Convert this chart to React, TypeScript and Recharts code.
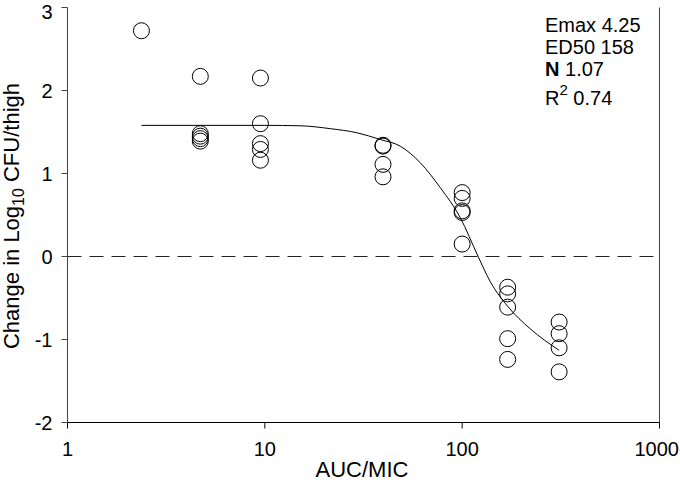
import { ComposedChart, Line, Scatter, XAxis, YAxis, ReferenceLine } from 'recharts';

// observed points, grouped by AUC/MIC dose level
const DOSE_X = [2.37, 4.71, 9.5, 39.7, 100, 170, 310];
const DOSE_Y = [
  [2.72],
  [2.17, 1.48, 1.45, 1.42, 1.39],
  [2.15, 1.6, 1.36, 1.29, 1.16],
  [1.34, 1.33, 1.11, 0.96],
  [0.77, 0.7, 0.55, 0.53, 0.15],
  [-0.37, -0.45, -0.61, -0.99, -1.24],
  [-0.79, -0.93, -1.1, -1.39],
];

// fitted Emax curve
const FIT_X = [2.37, 10, 15.1, 21.5, 29.4, 38.4, 48.5, 61.3, 77.4, 97.7, 120.5, 138.6, 170, 221, 310];
const FIT_Y = [1.58, 1.58, 1.575, 1.54, 1.49, 1.41, 1.33, 1.13, 0.83, 0.47, 0.0, -0.3, -0.6, -0.87, -1.13];

const X_TICKS = [1, 10, 100, 1000];
const Y_TICKS = [-2, -1, 0, 1, 2, 3];

const FONT = '"Liberation Sans", Arial, sans-serif';

const points = DOSE_X.flatMap((x, i) => DOSE_Y[i].map(y => ({ x, y })));
const fit = FIT_X.map((x, i) => ({ x, y: FIT_Y[i] }));

const Ring = (props: any) => {
  const { cx, cy } = props;
  if (cx == null || cy == null) return null;
  return <circle cx={cx} cy={cy} r={8} fill="none" stroke="#000" strokeWidth={1} />;
};

// last label sits on the right edge, keep it inside the frame
const XTick = (props: any) => {
  const { x, y, payload } = props;
  const last = payload.value === X_TICKS[X_TICKS.length - 1];
  return (
    <text x={last ? 679 : x} y={y} dy="0.71em" textAnchor={last ? 'end' : 'middle'} fontSize={20} fill="#000" fontFamily={FONT}>
      {payload.value}
    </text>
  );
};

const YTitle = () => (
  <text x={19} y={216} transform="rotate(-90, 19, 216)" textAnchor="middle" fontSize={22} fill="#000" fontFamily={FONT}>
    <tspan>Change in Log</tspan>
    <tspan fontSize={16} dy={5}>10</tspan>
    <tspan dy={-5}> CFU/thigh</tspan>
  </text>
);

const XTitle = () => (
  <text x={362} y={477} textAnchor="middle" fontSize={22} fill="#000" fontFamily={FONT}>
    AUC/MIC
  </text>
);

export default function App() {
  return (
    <div style={{ position: 'absolute', left: 0, top: 0, width: 680, height: 483, background: '#fff', fontFamily: FONT }}>
      <ComposedChart width={680} height={483} margin={{ top: 7.5, right: 20.5, bottom: 0.5, left: 0.5 }}>
        <XAxis
          type="number"
          dataKey="x"
          scale="log"
          domain={[1, 1000]}
          ticks={X_TICKS}
          allowDataOverflow
          height={60}
          tickSize={6}
          tickMargin={13}
          stroke="#000"
          tick={XTick}
          label={{ content: XTitle }}
        />
        <YAxis
          type="number"
          dataKey="y"
          domain={[-2, 3]}
          ticks={Y_TICKS}
          allowDataOverflow
          width={67}
          tickSize={6}
          tickMargin={9}
          stroke="#444"
          tick={{ fill: '#000', fontSize: 20 }}
          label={{ content: YTitle }}
        />
        <ReferenceLine y={0} stroke="#222" strokeDasharray="14 8" />
        <ReferenceLine x={1000} stroke="#444" />
        <Line
          data={fit}
          dataKey="y"
          type="monotone"
          stroke="#000"
          strokeWidth={1}
          dot={false}
          activeDot={false}
          isAnimationActive={false}
        />
        <Scatter data={points} dataKey="y" shape={Ring} isAnimationActive={false} />
      </ComposedChart>
      <svg width={680} height={483} style={{ position: 'absolute', left: 0, top: 0, pointerEvents: 'none' }}>
        <g fontFamily={FONT} fontSize={20} fill="#000">
          <text x={545} y={32}>Emax 4.25</text>
          <text x={545} y={54}>ED50 158</text>
          <text x={545} y={76}>
            <tspan fontWeight="bold">N</tspan> 1.07
          </text>
          <text x={545} y={105}>
            R<tspan fontSize={15} dy={-10}>2</tspan>
            <tspan dy={10}> 0.74</tspan>
          </text>
        </g>
      </svg>
    </div>
  );
}
